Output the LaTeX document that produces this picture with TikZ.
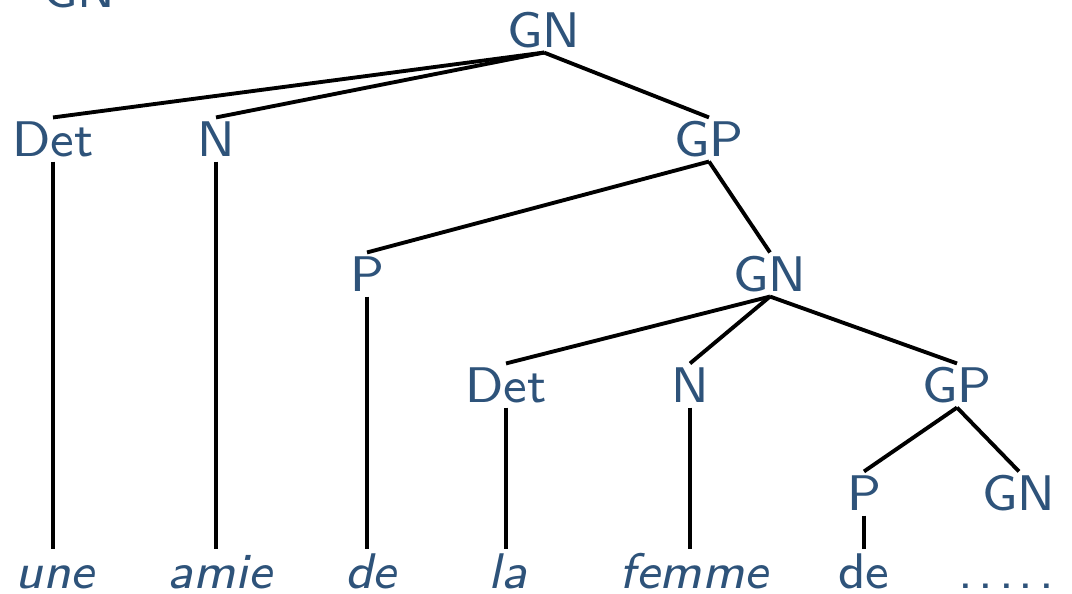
\documentclass[tikz,border=0pt]{standalone}
\usepackage{amsmath}
\usepackage{fontspec}
\setsansfont{lmsans8-regular.otf}[ItalicFont=lmsans8-oblique.otf]
\usepackage{tikz}

\definecolor{synblue}{RGB}{46,83,122}
\tikzset{
  cat/.style={text=synblue, font=\sffamily\fontsize{28.5}{34}\selectfont,
    text height=19.7pt, text depth=0pt, inner sep=2.5pt},
  word/.style={cat, font=\sffamily\itshape\fontsize{28.5}{34}\selectfont},
  branch/.style={line width=2.2pt}
}

\begin{document}
\begin{tikzpicture}[x=0.02cm,y=-0.02cm]
\useasboundingbox (0,0) rectangle (1072,594);

% what is left of the line above
\node[cat,anchor=base east] (prev) at (120,7.5) {$\rightarrow$\hspace{0.8cm}GN};

% categories
\node[cat] (gn1) at (544,30.5) {GN};
\node[cat] (det1) at (53,139.5) {Det};
\node[cat] (n1) at (216,139.5) {N};
\node[cat] (gp1) at (709,139.5) {GP};
\node[cat] (p1) at (367,274.5) {P};
\node[cat] (gn2) at (770,274.5) {GN};
\node[cat] (det2) at (506,385.5) {Det};
\node[cat] (n2) at (690,385.5) {N};
\node[cat] (gp2) at (957,385.5) {GP};
\node[cat] (p2) at (864,493.5) {P};
\node[cat] (gn3) at (1019,493.5) {GN};

% words
\node[word] (une) at (55,571.5) {une};
\node[word] (amie) at (220,571.5) {amie};
\node[word] (de1) at (371,571.5) {de};
\node[word] (la) at (508,571.5) {la};
\node[word] (femme) at (694,571.5) {femme};
\node[cat] (de2) at (864,571.5) {de};
\node[cat] (dots) at (1006,571.5) {.\kern.12em.\kern.12em.\kern.08em.\kern.12em.};

\draw[branch] (gn1.south) -- (det1.north);
\draw[branch] (gn1.south) -- (n1.north);
\draw[branch] (gn1.south) -- (gp1.north);
\draw[branch] (gp1.south) -- (p1.north);
\draw[branch] (gp1.south) -- (gn2.north);
\draw[branch] (gn2.south) -- (det2.north);
\draw[branch] (gn2.south) -- (n2.north);
\draw[branch] (gn2.south) -- (gp2.north);
\draw[branch] (gp2.south) -- (p2.north);
\draw[branch] (gp2.south) -- (gn3.north);

\draw[branch] (det1.south) -- (det1.south |- une.north);
\draw[branch] (n1.south) -- (n1.south |- amie.north);
\draw[branch] (p1.south) -- (p1.south |- de1.north);
\draw[branch] (det2.south) -- (det2.south |- la.north);
\draw[branch] (n2.south) -- (n2.south |- femme.north);
\draw[branch] (p2.south) -- (p2.south |- de2.north);
\end{tikzpicture}
\end{document}
